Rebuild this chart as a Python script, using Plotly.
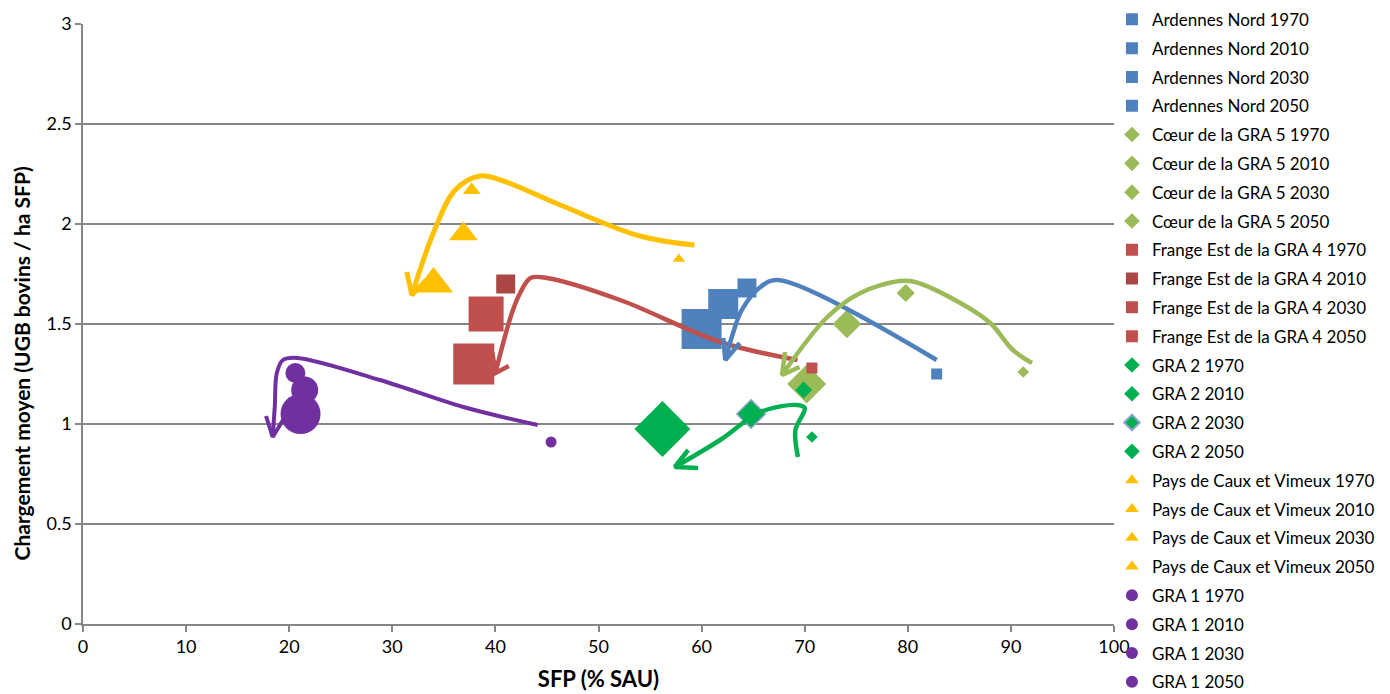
import plotly.graph_objects as go

# ---------------- data ----------------
years = ["1970", "2010", "2030", "2050"]
regions = ["Ardennes Nord", "Cœur de la GRA 5", "Frange Est de la GRA 4",
           "GRA 2", "Pays de Caux et Vimeux", "GRA 1"]

ardennes_sfp = [82.8, 64.4, 62.1, 60.0]
ardennes_charg = [1.25, 1.68, 1.60, 1.475]

coeur_sfp = [91.2, 79.8, 74.1, 70.2]
coeur_charg = [1.26, 1.655, 1.50, 1.20]

frange_sfp = [70.7, 41.0, 39.1, 37.9]
frange_charg = [1.28, 1.70, 1.55, 1.30]

gra2_sfp = [70.7, 69.9, 64.8, 56.2]
gra2_charg = [0.935, 1.17, 1.05, 0.975]

caux_sfp = [57.8, 37.7, 36.9, 34.0]
caux_charg = [1.825, 2.17, 1.95, 1.70]

gra1_sfp = [45.4, 20.6, 21.5, 21.1]
gra1_charg = [0.91, 1.255, 1.17, 1.05]

x_ticks = [0, 10, 20, 30, 40, 50, 60, 70, 80, 90, 100]
y_ticks = [0, 0.5, 1, 1.5, 2, 2.5, 3]

# ---------------- styles ----------------
series = [
    (regions[0], ardennes_sfp, ardennes_charg, "square",
     ["#4F81BD"] * 4, [11, 19, 30, 40]),
    (regions[1], coeur_sfp, coeur_charg, "diamond",
     ["#9BBB59"] * 4, [9, 14, 22, 30]),
    (regions[2], frange_sfp, frange_charg, "square",
     ["#C0504D", "#AA4643", "#C0504D", "#C0504D"], [11, 19, 35, 41]),
    (regions[3], gra2_sfp, gra2_charg, "diamond",
     ["#00B050"] * 4, [9, 13, 22, 43]),
    (regions[4], caux_sfp, caux_charg, "triangle-up",
     ["#FFC000"] * 4, [11, 15.5, 25, 34]),
    (regions[5], gra1_sfp, gra1_charg, "circle",
     ["#7030A0"] * 4, [11, 20, 27, 40]),
]

# hand-drawn evolution arrows (decoration, in axis units)
arrows = [
    ("#FFC000", 5, [(59.3, 1.895), (54.0, 1.94), (46.3, 2.095), (40.5, 2.22), (38.5, 2.24),
                    (36.1, 2.17), (34.1, 1.97), (31.9, 1.645)],
     [(31.4, 1.76), (33.3, 1.72)]),
    ("#C0504D", 4.5, [(69.3, 1.32), (61.8, 1.41), (52.1, 1.62), (45.0, 1.73), (43.4, 1.73),
                      (42.4, 1.655), (41.6, 1.555), (40.0, 1.255)],
     [(41.3, 1.29), (39.7, 1.36)]),
    ("#4F81BD", 4.5, [(82.8, 1.32), (67.4, 1.72), (65.7, 1.685), (63.9, 1.57), (63.05, 1.455),
                      (62.3, 1.32)],
     [(62.1, 1.43), (63.7, 1.405)]),
    ("#9BBB59", 4.5, [(92.05, 1.305), (90.2, 1.37), (88.0, 1.505), (85.1, 1.605), (80.7, 1.71),
                      (79.2, 1.715), (75.4, 1.655), (72.2, 1.535), (67.8, 1.245)],
     [(68.1, 1.36), (69.5, 1.285)]),
    ("#00B050", 4.5, [(69.35, 0.835), (69.1, 0.97), (70.0, 1.08), (69.25, 1.095),
                      (65.7, 1.06), (61.8, 0.92), (57.4, 0.785)],
     [(58.7, 0.87), (59.65, 0.78)]),
    ("#7030A0", 4, [(44.1, 0.995), (36.9, 1.085), (28.8, 1.22), (20.8, 1.33), (19.4, 1.32),
                    (18.8, 1.255), (18.6, 1.085), (18.4, 0.935)],
     [(17.75, 1.04), (19.4, 1.02)]),
]

fig = go.Figure()

gi = 0
for name, xs, ys, sym, cols, sizes in series:
    for i, yr in enumerate(years):
        line = dict(width=0)
        if name == "GRA 2" and yr == "2030":
            line = dict(width=1.5, color="#8FA3D0")
        fig.add_trace(go.Scatter(
            x=[xs[i]], y=[ys[i]], mode="markers",
            name=f"{name} {yr}", legendgroup=f"g{gi}",
            marker=dict(symbol=sym, color=cols[i], size=sizes[i], line=line),
            hoverinfo="x+y+name",
        ))
        gi += 1

for col, w, pts, barbs in arrows:
    fig.add_trace(go.Scatter(
        x=[p[0] for p in pts], y=[p[1] for p in pts], mode="lines",
        line=dict(color=col, width=w, shape="spline", smoothing=1.0),
        showlegend=False, hoverinfo="skip"))
    tip = pts[-1]
    fig.add_trace(go.Scatter(
        x=[barbs[0][0], tip[0], barbs[1][0]], y=[barbs[0][1], tip[1], barbs[1][1]],
        mode="lines", line=dict(color=col, width=w),
        showlegend=False, hoverinfo="skip"))

font_family = "Lato, 'Open Sans', sans-serif"

fig.update_layout(
    width=1390, height=694,
    margin=dict(l=75, r=284, t=16, b=78, autoexpand=False),
    paper_bgcolor="white", plot_bgcolor="white",
    font=dict(family=font_family, size=16, color="#000000"),
    showlegend=True,
    legend=dict(
        x=0.998, xanchor="left", y=1.037, yanchor="top",
        font=dict(family=font_family, size=17, color="#000000"),
        itemsizing="constant", tracegroupgap=3.7,
        bgcolor="rgba(0,0,0,0)",
    ),
    xaxis=dict(
        range=[0, 100], tickvals=x_ticks, ticktext=[str(v) for v in x_ticks],
        showgrid=False, zeroline=False,
        showline=True, linecolor="#868686", linewidth=1.5,
        ticks="outside", ticklen=6, tickcolor="#868686", tickwidth=1.5,
        tickfont=dict(size=18, color="#000000"),
        title=dict(text="<b>SFP (% SAU)</b>", font=dict(size=22), standoff=15),
    ),
    yaxis=dict(
        range=[0, 3], tickvals=y_ticks, ticktext=[f"{v:g}" for v in y_ticks],
        showgrid=True, gridcolor="#868686", gridwidth=1.5, zeroline=False,
        showline=True, linecolor="#868686", linewidth=1.5,
        ticks="outside", ticklen=6, tickcolor="#868686", tickwidth=1.5,
        tickfont=dict(size=18, color="#000000"),
    ),
    annotations=[dict(
        text="<b>Chargement moyen (UGB bovins / ha SFP)</b>",
        xref="paper", yref="paper", x=(20.5 - 83) / 1031, y=(624 - 364) / 600,
        textangle=-90, showarrow=False, font=dict(size=21),
        xanchor="center", yanchor="middle")],
)

try:
    fig.update_layout(legend_maxheight=900)
except Exception:
    pass

fig.write_html("out.html")
